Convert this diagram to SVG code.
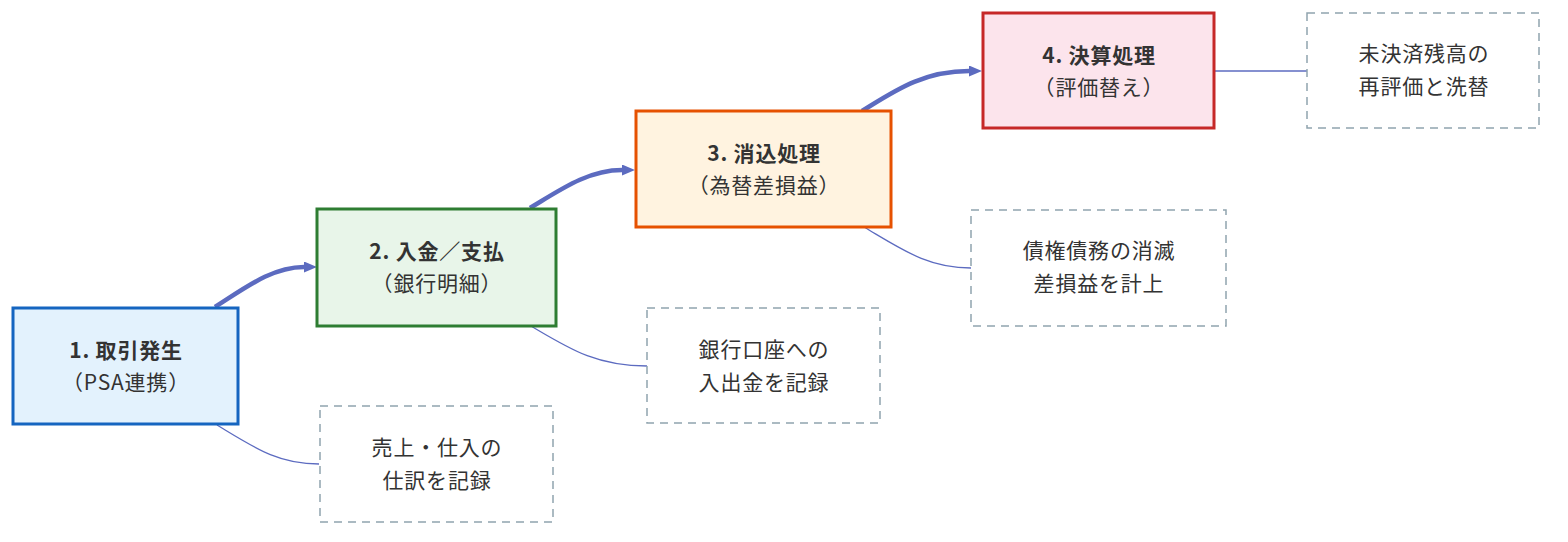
<svg xmlns="http://www.w3.org/2000/svg" width="1568" height="542" viewBox="0 0 1568 542">
<style>
  .t{font-family:"Noto Sans CJK JP","Noto Sans",sans-serif;fill:#333;text-anchor:middle;font-size:21px;letter-spacing:0.8px}
  .b{font-weight:bold}
  .note{fill:#ffffff;stroke:#90a4ae;stroke-width:1.5;stroke-dasharray:8 6}
  .flow{fill:none;stroke:#5c6bc0;stroke-width:4.5}
  .link{fill:none;stroke:#5c6bc0;stroke-width:1.3}
</style>
<defs>
  <marker id="ah" markerUnits="userSpaceOnUse" viewBox="0 0 13 11" refX="0" refY="5.5" markerWidth="13" markerHeight="11" orient="auto">
    <path d="M0,0 L13,5.5 L0,11 z" fill="#5c6bc0"/>
  </marker>
</defs>
<rect width="1568" height="542" fill="#ffffff"/>
<g id="connectors">
  <path class="flow" d="M215,307 C245,288 272,267 304,267" marker-end="url(#ah)"/>
  <path class="flow" d="M530,208 C560,190 588,170 622,170" marker-end="url(#ah)"/>
  <path class="flow" d="M862,111 C893,92 922,71 969,71" marker-end="url(#ah)"/>
  <path class="link" d="M217,425 C255,448 278,464 319,464"/>
  <path class="link" d="M531,326 C570,349 596,366 647,366"/>
  <path class="link" d="M864,227 C903,250 928,268 971,268"/>
  <path class="link" d="M1215,71 L1307,71"/>
</g>
<g id="n1">
  <rect x="13" y="308" width="225" height="116" fill="#e3f2fd" stroke="#1565c0" stroke-width="3"/>
  <text class="t b" x="126" y="358">1. 取引発生</text>
  <text class="t" x="126" y="390">（PSA連携）</text>
</g>
<g id="n2">
  <rect x="317" y="209" width="239" height="117" fill="#e8f5e9" stroke="#2e7d32" stroke-width="3"/>
  <text class="t b" x="437" y="259">2. 入金／支払</text>
  <text class="t" x="437" y="291">（銀行明細）</text>
</g>
<g id="n3">
  <rect x="636" y="111" width="255" height="116" fill="#fff3e0" stroke="#e65100" stroke-width="3"/>
  <text class="t b" x="764" y="161">3. 消込処理</text>
  <text class="t" x="764" y="193">（為替差損益）</text>
</g>
<g id="n4">
  <rect x="983" y="13" width="231" height="115" fill="#fce4ec" stroke="#c62828" stroke-width="3"/>
  <text class="t b" x="1099" y="63">4. 決算処理</text>
  <text class="t" x="1099" y="95">（評価替え）</text>
</g>
<g id="note1">
  <rect class="note" x="320" y="406" width="233" height="116"/>
  <text class="t" x="437" y="455">売上・仕入の</text>
  <text class="t" x="437" y="488">仕訳を記録</text>
</g>
<g id="note2">
  <rect class="note" x="647" y="308" width="233" height="115"/>
  <text class="t" x="764" y="357">銀行口座への</text>
  <text class="t" x="764" y="390">入出金を記録</text>
</g>
<g id="note3">
  <rect class="note" x="971" y="210" width="255" height="116"/>
  <text class="t" x="1099" y="258">債権債務の消滅</text>
  <text class="t" x="1099" y="291">差損益を計上</text>
</g>
<g id="note4">
  <rect class="note" x="1307" y="13" width="232" height="115"/>
  <text class="t" x="1424" y="61">未決済残高の</text>
  <text class="t" x="1424" y="94">再評価と洗替</text>
</g>
</svg>
